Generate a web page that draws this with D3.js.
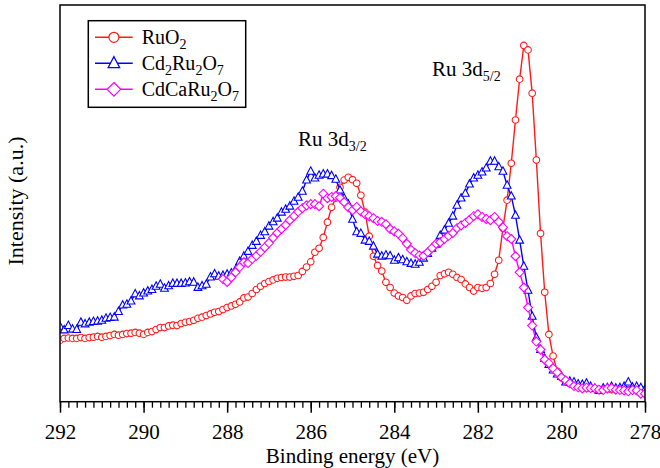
<!DOCTYPE html>
<html>
<head>
<meta charset="utf-8">
<script src="https://cdn.jsdelivr.net/npm/d3@7"></script>
<style>
body{margin:0;background:#fff;}
text{font-family:'Liberation Serif','Times New Roman',serif;fill:#000;}
</style>
</head>
<body>
<svg id="chart"></svg>
<script>
// binding energy scan, 0.1 eV steps from 292 eV down
const energyStart = 292
const energyStep = 0.1
const cdcaStart = 288.1

const ruo2 = [
	15.3,15.8,15.9,15.8,15.8,16.0,15.8,16.0,16.1,16.3,
	16.1,16.3,16.5,16.8,16.6,16.8,17.0,17.1,17.3,17.1,
	16.8,17.3,17.5,18.0,18.5,18.5,18.9,19.1,19.0,19.5,
	19.8,20.0,20.3,20.8,21.1,21.5,21.9,22.3,22.5,23.0,
	23.5,23.9,24.3,24.9,25.9,26.1,27.0,28.0,28.8,29.5,
	30.0,30.4,30.8,31.0,31.1,31.1,31.3,31.5,32.5,33.6,
	34.9,37.3,38.3,41.0,44.8,48.5,50.8,53.5,55.3,56.0,
	55.4,54.5,51.5,47.3,41.3,36.3,34.0,32.6,29.8,28.5,
	27.1,26.4,26.0,25.3,26.4,27.0,27.1,27.3,28.0,28.8,
	29.8,31.5,31.9,32.3,31.8,31.0,30.5,29.4,28.5,27.6,
	28.5,28.3,28.5,29.5,31.8,35.3,43.3,50.3,59.5,70.3,
	80.5,88.9,87.8,77.0,60.3,42.0,27.3,16.8,11.4,7.6,
	6.0,5.0,4.5,4.1,3.8,3.6,3.4,3.3,3.3,3.1,
	3.0,3.3,3.0,3.1,3.0,3.3,3.0,3.1,3.0,3.1,
	3.0
]

const cd2ru2o7 = [
	18.8,17.9,19.0,18.1,18.0,19.8,19.4,19.8,20.0,20.1,
	20.3,20.8,21.0,21.1,22.5,24.1,24.3,25.1,26.9,26.4,
	27.1,27.6,28.0,28.8,29.3,28.3,28.9,29.5,29.5,29.5,
	29.6,29.9,29.8,28.5,28.9,29.3,31.1,31.9,31.3,31.5,
	31.8,32.1,32.9,35.0,36.3,37.5,39.0,40.0,41.5,42.4,
	43.8,44.9,45.8,47.3,48.0,48.8,50.0,51.0,52.5,55.3,
	57.5,55.8,56.5,56.8,56.8,56.4,55.5,52.8,50.8,49.3,
	45.5,42.4,42.0,40.3,40.0,38.8,36.8,36.3,36.6,36.4,
	35.3,35.9,35.4,34.9,34.5,34.3,34.8,35.8,37.0,38.3,
	39.3,41.5,42.8,44.5,46.3,49.0,50.8,52.0,54.3,55.8,
	56.5,57.3,58.3,60.0,60.0,58.6,57.5,54.0,51.3,46.5,
	40.3,33.8,27.8,21.3,16.0,13.0,10.8,9.3,7.9,6.9,
	6.3,4.9,5.1,4.9,4.4,4.3,4.6,3.8,3.3,2.8,
	3.4,3.5,3.8,3.4,3.5,3.8,4.9,3.6,3.8,3.5,
	3.0
]

const cdcaru2o7 = [
	30.6,
	29.9,31.0,32.3,33.6,34.8,34.6,35.6,36.4,37.4,38.5,
	39.6,40.9,42.1,43.1,44.1,45.3,46.3,47.4,48.3,49.0,
	49.3,49.3,48.8,51.9,50.8,51.1,51.3,50.9,49.8,48.5,
	47.8,48.6,47.5,46.8,46.3,45.8,45.1,44.9,44.3,43.1,
	42.5,41.9,40.8,39.4,37.9,37.1,36.5,36.4,37.3,38.3,
	39.4,39.8,40.6,41.4,42.1,43.3,44.0,44.6,45.4,46.3,
	46.8,46.1,45.6,45.3,46.1,44.9,43.5,41.3,40.6,36.3,
	32.3,28.5,23.5,19.0,15.0,13.0,10.5,9.6,8.3,7.3,
	6.1,5.3,4.6,3.9,3.6,3.3,3.5,3.4,3.3,3.0,
	2.9,3.3,3.4,3.0,2.9,2.8,2.6,2.9,2.8,2.0,2.0
]

const seriesNames = ['RuO_2', 'Cd_2Ru_2O_7', 'CdCaRu_2O_7']
const seriesColors = ['#ff1a1a', '#0000ff', '#ff00ff']
const seriesMarkers = ['circle', 'triangle', 'diamond']

const majorTicks = [292, 290, 288, 286, 284, 282, 280, 278]

const toPoints = (values, start)=>{
	return values.map((v, i)=>({e: +(start - i * energyStep).toFixed(1), v: v}))
}

const series = [
	toPoints(ruo2, energyStart),
	toPoints(cd2ru2o7, energyStart),
	toPoints(cdcaru2o7, cdcaStart),
]

let outer_width = 660
let outer_height = 468

let margin = {
	top: 5,
	right: 15,
	bottom: 66.3,
	left: 60
}

let width = outer_width - margin.left - margin.right
let height = outer_height - margin.top - margin.bottom

const xScale = d3.scaleLinear()
	.domain([292, 278])
	.range([0, width])

const yScale = d3.scaleLinear()
	.domain([0, 99])
	.range([height, 0])

const markerPath = (type, s)=>{
	switch(type){
		case 'triangle':
		return `M0,${-1.15*s}L${s},${0.75*s}L${-s},${0.75*s}Z`
		case 'diamond':
		return `M0,${-s}L${s},0L0,${s}L${-s},0Z`
		default:
		return `M${s},0A${s},${s} 0 1,1 ${-s},0A${s},${s} 0 1,1 ${s},0Z`
	}
}

// "Cd_2Ru_2O_7" -> normal text with subscripted numbers
const richText = (sel, str, subSize, shift)=>{
	let parts = str.split(/_([0-9/]+)/)
	let down = false
	parts.forEach((p, i)=>{
		if(p == '') return
		let t = sel.append('tspan').text(p)
		if(i % 2 == 1){
			t.attr('font-size', subSize).attr('dy', shift)
			down = true
		}else if(down){
			t.attr('dy', -shift)
			down = false
		}
	})
}

const svg = d3.select('#chart')
	.attr('width', outer_width)
	.attr('height', outer_height)
	.style('background', '#fff')

const chart = svg.append('g')
	.attr('transform', `translate(${margin.left},${margin.top})`)

chart.append('clipPath')
	.attr('id', 'plotClip')
	.append('rect')
	.attr('width', width)
	.attr('height', height)

const plot = chart.append('g').attr('clip-path', 'url(#plotClip)')

const line = d3.line()
	.x(d => xScale(d.e))
	.y(d => yScale(d.v))

series.forEach((data, i)=>{
	let g = plot.append('g')
	g.append('path')
		.datum(data)
		.attr('d', line)
		.attr('fill', 'none')
		.attr('stroke', seriesColors[i])
		.attr('stroke-width', 1.4)
	g.selectAll('.marker')
		.data(data)
		.enter()
		.append('path')
		.attr('d', markerPath(seriesMarkers[i], seriesMarkers[i] == 'circle' ? 3.3 : seriesMarkers[i] == 'triangle' ? 3.9 : 4.5))
		.attr('transform', d => `translate(${xScale(d.e)},${yScale(d.v)})`)
		.attr('fill', '#fff')
		.attr('stroke', seriesColors[i])
		.attr('stroke-width', 1.1)
})

// axes
const minorTicks = d3.range(278, 292.01, 0.2).map(d => +d.toFixed(1))

const axisMinor = chart.append('g')
	.attr('transform', `translate(0,${height})`)
	.call(d3.axisBottom(xScale).tickValues(minorTicks).tickSize(6).tickFormat(''))
axisMinor.select('.domain').remove()
axisMinor.selectAll('line').attr('stroke-width', 1.3)

const axisMajor = chart.append('g')
	.attr('transform', `translate(0,${height})`)
	.call(d3.axisBottom(xScale).tickValues(majorTicks).tickSize(11).tickSizeOuter(0).tickPadding(11).tickFormat(d3.format('d')))
axisMajor.select('.domain').remove()
axisMajor.selectAll('line').attr('stroke-width', 1.5)
axisMajor.selectAll('text')
	.attr('font-family', "'Liberation Serif','Times New Roman',serif")
	.attr('font-size', 21)
	.attr('fill', '#000')

chart.append('rect')
	.attr('width', width)
	.attr('height', height)
	.attr('fill', 'none')
	.attr('stroke', '#000')
	.attr('stroke-width', 1.5)

svg.append('text')
	.text('Binding energy (eV)')
	.attr('x', margin.left + width / 2)
	.attr('y', 463)
	.attr('text-anchor', 'middle')
	.attr('font-size', 21)

svg.append('text')
	.text('Intensity (a.u.)')
	.attr('transform', 'translate(23,201) rotate(-90)')
	.attr('text-anchor', 'middle')
	.attr('font-size', 22)

// peak labels
const peakLabels = [
	{text: 'Ru 3d_3/2', x: 298, y: 146},
	{text: 'Ru 3d_5/2', x: 432, y: 76},
]
peakLabels.forEach(p=>{
	let t = svg.append('text')
		.attr('x', p.x)
		.attr('y', p.y)
		.attr('font-size', 21)
	richText(t, p.text, 14, 5)
})

// legend
const legend = svg.append('g')
	.attr('transform', 'translate(88.3,20.7)')

legend.append('rect')
	.attr('width', 157.4)
	.attr('height', 86.6)
	.attr('fill', '#fff')
	.attr('stroke', '#000')
	.attr('stroke-width', 1.5)

seriesNames.forEach((name, i)=>{
	let row = legend.append('g')
		.attr('transform', `translate(0,${16.6 + i * 26})`)
	row.append('line')
		.attr('x1', 6.7)
		.attr('x2', 44.4)
		.attr('stroke', seriesColors[i])
		.attr('stroke-width', 1.4)
	row.append('path')
		.attr('d', markerPath(seriesMarkers[i], seriesMarkers[i] == 'circle' ? 5 : seriesMarkers[i] == 'triangle' ? 5.8 : 6.8))
		.attr('transform', 'translate(25.6,0)')
		.attr('fill', '#fff')
		.attr('stroke', seriesColors[i])
		.attr('stroke-width', 1.2)
	let t = row.append('text')
		.attr('x', 53.4)
		.attr('y', 7)
		.attr('font-size', 20)
	richText(t, name, 14, 5)
})
</script>
</body>
</html>
